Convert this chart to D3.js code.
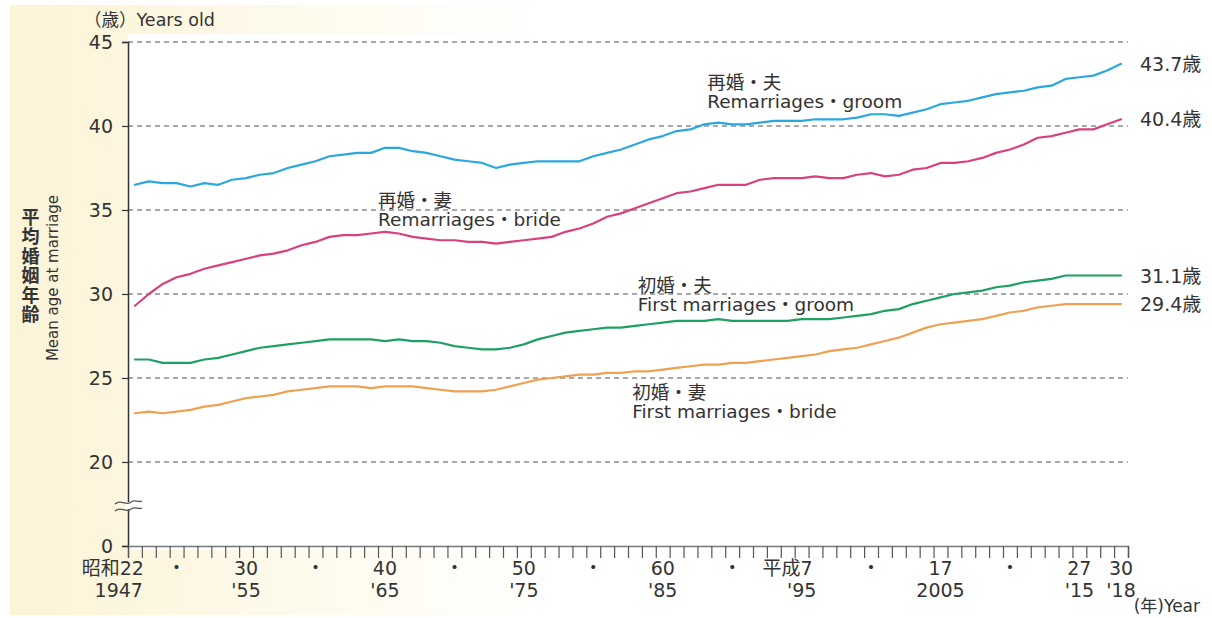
<!DOCTYPE html>
<html><head><meta charset="utf-8">
<script src="https://cdn.jsdelivr.net/npm/d3@7"></script>
<style>
html,body{margin:0;padding:0;background:#fff;}
svg{display:block;}
text{font-family:"DejaVu Sans","Noto Sans CJK JP",sans-serif;fill:#333;}
</style></head>
<body>
<svg id="chart" width="1212" height="618"></svg>
<script>
// ---- data ----
const years = d3.range(1947, 2019);
const remarriageGroom = [36.5,36.7,36.6,36.6,36.4,36.6,36.5,36.8,36.9,37.1,37.2,37.5,37.7,37.9,38.2,38.3,38.4,38.4,38.7,38.7,38.5,38.4,38.2,38.0,37.9,37.8,37.5,37.7,37.8,37.9,37.9,37.9,37.9,38.2,38.4,38.6,38.9,39.2,39.4,39.7,39.8,40.1,40.2,40.1,40.1,40.2,40.3,40.3,40.3,40.4,40.4,40.4,40.5,40.7,40.7,40.6,40.8,41.0,41.3,41.4,41.5,41.7,41.9,42.0,42.1,42.3,42.4,42.8,42.9,43.0,43.3,43.7];
const remarriageBride = [29.3,30.0,30.6,31.0,31.2,31.5,31.7,31.9,32.1,32.3,32.4,32.6,32.9,33.1,33.4,33.5,33.5,33.6,33.7,33.6,33.4,33.3,33.2,33.2,33.1,33.1,33.0,33.1,33.2,33.3,33.4,33.7,33.9,34.2,34.6,34.8,35.1,35.4,35.7,36.0,36.1,36.3,36.5,36.5,36.5,36.8,36.9,36.9,36.9,37.0,36.9,36.9,37.1,37.2,37.0,37.1,37.4,37.5,37.8,37.8,37.9,38.1,38.4,38.6,38.9,39.3,39.4,39.6,39.8,39.8,40.1,40.4];
const firstGroom = [26.1,26.1,25.9,25.9,25.9,26.1,26.2,26.4,26.6,26.8,26.9,27.0,27.1,27.2,27.3,27.3,27.3,27.3,27.2,27.3,27.2,27.2,27.1,26.9,26.8,26.7,26.7,26.8,27.0,27.3,27.5,27.7,27.8,27.9,28.0,28.0,28.1,28.2,28.3,28.4,28.4,28.4,28.5,28.4,28.4,28.4,28.4,28.4,28.5,28.5,28.5,28.6,28.7,28.8,29.0,29.1,29.4,29.6,29.8,30.0,30.1,30.2,30.4,30.5,30.7,30.8,30.9,31.1,31.1,31.1,31.1,31.1];
const firstBride = [22.9,23.0,22.9,23.0,23.1,23.3,23.4,23.6,23.8,23.9,24.0,24.2,24.3,24.4,24.5,24.5,24.5,24.4,24.5,24.5,24.5,24.4,24.3,24.2,24.2,24.2,24.3,24.5,24.7,24.9,25.0,25.1,25.2,25.2,25.3,25.3,25.4,25.4,25.5,25.6,25.7,25.8,25.8,25.9,25.9,26.0,26.1,26.2,26.3,26.4,26.6,26.7,26.8,27.0,27.2,27.4,27.7,28.0,28.2,28.3,28.4,28.5,28.7,28.9,29.0,29.2,29.3,29.4,29.4,29.4,29.4,29.4];

const seriesNames = ["remarriageGroom","remarriageBride","firstGroom","firstBride"];
const seriesValues = [remarriageGroom, remarriageBride, firstGroom, firstBride];
const seriesColors = ["#2ba7de","#d8407f","#1ea062","#eea152"];
const seriesLabelJa = ["再婚・夫","再婚・妻","初婚・夫","初婚・妻"];
const seriesLabelEn = ["Remarriages・groom","Remarriages・bride","First marriages・groom","First marriages・bride"];
// label anchor in data space [year, value] (baseline of first line)
const seriesLabelAt = [[1988.7, 42.2],[1965.0, 35.2],[1983.7, 30.1],[1983.3, 23.75]];

const yTicks = [0,20,25,30,35,40,45];
const gridValues = [20,25,30,35,40,45];
const xLabelYears = [1947,1950,1955,1960,1965,1970,1975,1980,1985,1990,1995,2000,2005,2010,2015,2018];
const xLabelLine1 = ["昭和22","・","30","・","40","・","50","・","60","・","平成7","・","17","・","27","30"];
const xLabelLine2 = ["1947","","'55","","'65","","'75","","'85","","'95","","2005","","'15","'18"];

// ---- drawing ----
const svg = d3.select("#chart");
const defs = svg.append("defs");
const grad = defs.append("linearGradient").attr("id","bg").attr("x1","0").attr("x2","1").attr("y1","0").attr("y2","0");
grad.append("stop").attr("offset","0%").attr("stop-color","#fcf4d8");
grad.append("stop").attr("offset","9%").attr("stop-color","#fdf6de");
grad.append("stop").attr("offset","45%").attr("stop-color","#ffffff");

svg.append("rect").attr("x",10).attr("y",5).attr("width",1202).attr("height",610).attr("fill","url(#bg)");
svg.append("rect").attr("x",128).attr("y",34).attr("width",1084).attr("height",516).attr("fill","#fff");

const x = d3.scaleLinear().domain([1947, 2019]).range([128, 1128]);
const y = d3.scaleLinear().domain([0, 20, 45]).range([546, 462, 42]);

// gridlines
svg.append("g").selectAll("line").data(gridValues).join("line")
  .attr("x1", x(1947)).attr("x2", x(2019))
  .attr("y1", d => y(d)).attr("y2", d => y(d))
  .attr("stroke","#555").attr("stroke-width",1.2).attr("stroke-dasharray","5,4");

// y axis
const yAxis = d3.axisLeft(y).tickValues(yTicks).tickSize(6).tickPadding(9).tickFormat(d3.format("d"));
const gy = svg.append("g").attr("transform",`translate(${x(1947)},0)`).call(yAxis);
gy.select(".domain").attr("stroke","#333").attr("stroke-width",1.5);
gy.selectAll(".tick line").attr("stroke","#333").attr("stroke-width",1.2);
gy.selectAll(".tick text").attr("font-size",19).attr("font-family",'"DejaVu Sans",sans-serif').attr("fill","#333");

// x axis (year boundaries)
const xAxis = d3.axisBottom(x).tickValues(d3.range(1947, 2020)).tickSize(12).tickFormat("");
const gx = svg.append("g").attr("transform",`translate(0,${y(0)})`).call(xAxis);
gx.select(".domain").attr("stroke","#777").attr("stroke-width",1.5);
gx.selectAll(".tick line").attr("stroke","#555").attr("stroke-width",1.2);

// x labels
const xl = svg.append("g");
xl.selectAll("text.l1").data(xLabelYears).join("text").attr("class","l1")
  .attr("x",(d,i)=> i===0 ? x(d+0.5)+9 : (i===10 ? x(d+0.5)+11 : x(d+0.5)))
  .attr("y", y(0)+29)
  .attr("text-anchor",(d,i)=> i===0 || i===10 ? "end" : "middle")
  .attr("font-size",19).attr("font-family",'"Liberation Sans","Noto Sans CJK JP",sans-serif')
  .text((d,i)=>xLabelLine1[i]);
xl.selectAll("text.l2").data(xLabelYears).join("text").attr("class","l2")
  .attr("x",(d,i)=> i===0 ? x(d+0.5)+8 : x(d+0.5))
  .attr("y", y(0)+51)
  .attr("text-anchor",(d,i)=> i===0 ? "end" : "middle")
  .attr("font-size",19).attr("font-family",'"Liberation Sans","Noto Sans CJK JP",sans-serif')
  .text((d,i)=>xLabelLine2[i]);

// axis break mark
const by = 505, bx = x(1947);
const wave = (off) => {
  const p = d3.path();
  p.moveTo(bx-13, by+off+2);
  p.bezierCurveTo(bx-7, by+off-4, bx-3, by+off+5, bx+3, by+off);
  p.bezierCurveTo(bx+7, by+off-3, bx+10, by+off+1, bx+14, by+off-1);
  return p.toString();
};
svg.append("rect").attr("x",bx-3).attr("y",by-3).attr("width",6).attr("height",7).attr("fill","#fff");
svg.append("path").attr("d",wave(-3)).attr("fill","none").attr("stroke","#555").attr("stroke-width",1.3);
svg.append("path").attr("d",wave(4)).attr("fill","none").attr("stroke","#555").attr("stroke-width",1.3);

// lines
const line = d3.line().x((d,i)=>x(years[i]+0.5)).y(d=>y(d));
svg.append("g").selectAll("path").data(seriesValues).join("path")
  .attr("d", d=>line(d)).attr("fill","none")
  .attr("stroke",(d,i)=>seriesColors[i]).attr("stroke-width",2.2)
  .attr("stroke-linejoin","round").attr("stroke-linecap","round");

// end labels
svg.append("g").selectAll("text").data(seriesValues).join("text")
  .attr("x", x(2019)+12).attr("y", d=>y(d[d.length-1]))
  .attr("dominant-baseline","central").attr("font-size",19)
  .text(d=>d3.format(".1f")(d[d.length-1])+"歳");

// series labels
const sl = svg.append("g");
seriesLabelAt.forEach((p,i)=>{
  sl.append("text").attr("x",x(p[0])).attr("y",y(p[1])).attr("font-size",18.5)
    .attr("font-family",'"Noto Sans CJK JP",sans-serif').text(seriesLabelJa[i]);
  sl.append("text").attr("x",x(p[0])).attr("y",y(p[1])+19).attr("font-size",18.5).text(seriesLabelEn[i]);
});

// axis titles
svg.append("text").attr("x",84).attr("y",26).attr("font-size",17.5).text("（歳）Years old");
svg.append("text").attr("x",1200).attr("y",612).attr("text-anchor","end").attr("font-size",17)
  .attr("font-family",'"Liberation Sans","Noto Sans CJK JP",sans-serif').text("(年)Year");
svg.append("text").attr("x",29).attr("y",208).attr("writing-mode","vertical-rl")
  .attr("font-size",18).attr("font-weight","bold").attr("letter-spacing",1.5)
  .attr("font-family",'"Noto Sans CJK JP",sans-serif').text("平均婚姻年齢");
svg.append("text").attr("transform","translate(58,278) rotate(-90)").attr("text-anchor","middle")
  .attr("font-size",15).text("Mean age at marriage");
</script>
</body></html>
